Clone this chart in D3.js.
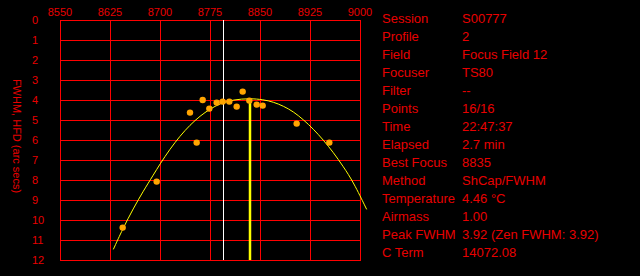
<!DOCTYPE html>
<html>
<head>
<meta charset="utf-8">
<script src="https://cdnjs.cloudflare.com/ajax/libs/d3/7.8.5/d3.min.js"></script>
<style>
  html, body { margin: 0; padding: 0; background: #000; }
  svg { display: block; }
  text { font-family: "Liberation Sans", Arial, sans-serif; }
</style>
</head>
<body>
<svg id="chart" width="640" height="276"></svg>
<script>
// focuser position ticks and FWHM ticks
var xTicks = [8550, 8625, 8700, 8775, 8850, 8925, 9000];
var yTicks = [0, 1, 2, 3, 4, 5, 6, 7, 8, 9, 10, 11, 12];

// measured samples
var samplePos = [8644, 8695, 8745, 8755, 8764, 8774, 8785, 8794, 8804, 8815, 8824, 8834, 8845, 8854, 8905, 8954];
var sampleFwhm = [10.38, 8.08, 4.63, 6.13, 4.0, 4.43, 4.13, 4.08, 4.08, 4.33, 3.58, 4.03, 4.23, 4.28, 5.18, 6.13];

// fitted curve
var curvePos = [8630, 8644, 8660, 8675, 8690, 8700, 8715, 8730, 8745, 8760, 8775, 8790, 8810, 8835, 8855, 8870, 8885, 8900, 8915, 8930, 8945, 8960, 8975, 8990, 9010];
var curveFwhm = [11.47, 10.45, 9.42, 8.55, 7.75, 7.2, 6.45, 5.8, 5.25, 4.8, 4.45, 4.18, 3.98, 3.92, 3.98, 4.1, 4.3, 4.58, 4.98, 5.45, 6.0, 6.62, 7.33, 8.1, 9.47];

var bestFocus = 8835;
var peakFwhm = 3.92;
var startPos = 8795;

var infoLabels = ["Session", "Profile", "Field", "Focuser", "Filter", "Points", "Time", "Elapsed", "Best Focus", "Method", "Temperature", "Airmass", "Peak FWHM", "C Term"];
var infoValues = ["S00777", "2", "Focus Field 12", "TS80", "--", "16/16", "22:47:37", "2.7 min", "8835", "ShCap/FWHM", "4.46 \u00b0C", "1.00", "3.92 (Zen FWHM: 3.92)", "14072.08"];

var svg = d3.select("#chart");
var margin = { top: 20, left: 60, width: 300, height: 240 };
var red = "#ff0000";
var textRed = "#e80000";

var x = d3.scaleLinear().domain([8550, 9000]).range([margin.left, margin.left + margin.width]);
var y = d3.scaleLinear().domain([0, 12]).range([margin.top, margin.top + margin.height]);

// grid
var grid = svg.append("g").attr("shape-rendering", "crispEdges");
grid.selectAll(".vline")
  .data(xTicks)
  .enter()
  .append("line")
  .attr("x1", (d) => Math.round(x(d)) + 0.5)
  .attr("x2", (d) => Math.round(x(d)) + 0.5)
  .attr("y1", y(0))
  .attr("y2", y(12))
  .attr("stroke", red);
grid.selectAll(".hline")
  .data(yTicks)
  .enter()
  .append("line")
  .attr("y1", (d) => Math.round(y(d)) + 0.5)
  .attr("y2", (d) => Math.round(y(d)) + 0.5)
  .attr("x1", x(8550))
  .attr("x2", x(9000) + 1)
  .attr("stroke", red);

// tick labels
svg.append("g")
  .selectAll("text")
  .data(xTicks)
  .enter()
  .append("text")
  .attr("x", (d) => x(d))
  .attr("y", 16)
  .attr("text-anchor", "middle")
  .attr("font-size", 11)
  .attr("fill", textRed)
  .text((d) => d);

svg.append("g")
  .selectAll("text")
  .data(yTicks)
  .enter()
  .append("text")
  .attr("x", 32)
  .attr("y", (d) => y(d) + 4)
  .attr("font-size", 11)
  .attr("fill", textRed)
  .text((d) => d);

svg.append("text")
  .attr("transform", "translate(13,136) rotate(90)")
  .attr("text-anchor", "middle")
  .attr("font-size", 11)
  .attr("fill", textRed)
  .text("FWHM, HFD (arc secs)");

// start position (white) and best focus (yellow)
svg.append("line")
  .attr("x1", Math.round(x(startPos)) + 0.5)
  .attr("x2", Math.round(x(startPos)) + 0.5)
  .attr("y1", y(0))
  .attr("y2", y(12))
  .attr("stroke", "#fff")
  .attr("shape-rendering", "crispEdges");

svg.append("line")
  .attr("x1", x(bestFocus))
  .attr("x2", x(bestFocus))
  .attr("y1", y(peakFwhm))
  .attr("y2", y(12))
  .attr("stroke", "#ffff00")
  .attr("stroke-width", 2.5);

// fitted curve
var line = d3.line()
  .x((d, i) => x(curvePos[i]))
  .y((d) => y(d))
  .curve(d3.curveBasis);

svg.append("path")
  .datum(curveFwhm)
  .attr("fill", "none")
  .attr("stroke", "#ffff00")
  .attr("stroke-width", 1)
  .attr("d", line);

// samples
svg.append("g")
  .selectAll("circle")
  .data(sampleFwhm)
  .enter()
  .append("circle")
  .attr("cx", (d, i) => x(samplePos[i]))
  .attr("cy", (d) => y(d))
  .attr("r", 3.2)
  .attr("fill", "#ffa500");

// info panel
var info = svg.append("g").attr("font-size", 13).attr("fill", textRed);
info.selectAll(".lbl")
  .data(infoLabels)
  .enter()
  .append("text")
  .attr("x", 382)
  .attr("y", (d, i) => 23 + i * 18)
  .text((d) => d);
info.selectAll(".val")
  .data(infoValues)
  .enter()
  .append("text")
  .attr("x", 462)
  .attr("y", (d, i) => 23 + i * 18)
  .text((d) => d);
</script>
</body>
</html>
